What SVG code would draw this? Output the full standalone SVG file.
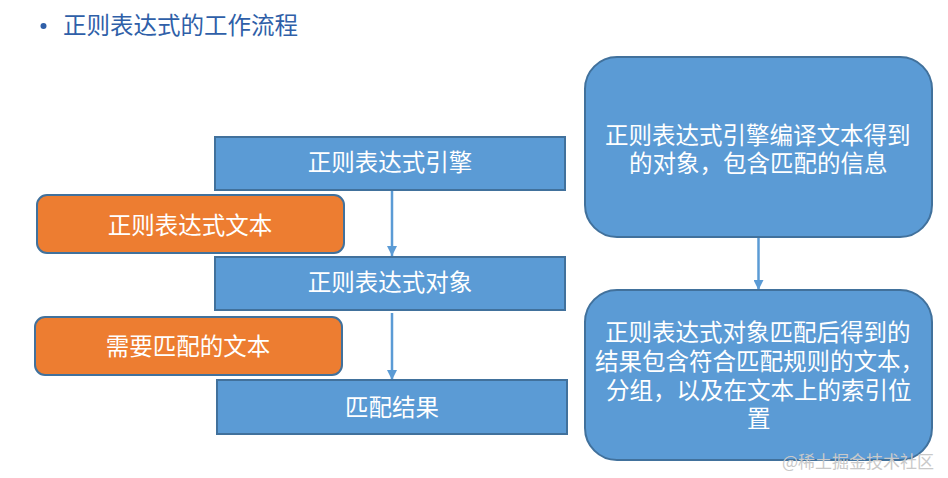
<svg xmlns="http://www.w3.org/2000/svg" width="948" height="478" viewBox="0 0 948 478">
<style>
text{font-family:"Microsoft YaHei","Noto Sans CJK SC",sans-serif;font-size:23.5px}
.blue{fill:#5b9bd5;stroke:#41719c;stroke-width:2}
.orange{fill:#ed7d31;stroke:#41719c;stroke-width:2}
.w{fill:#ffffff}
.c{text-anchor:middle}
.conn{stroke:#5b9bd5;stroke-width:2.5;fill:none}
</style>
<defs>
<marker id="ah" viewBox="0 0 10 10" refX="10" refY="5" markerWidth="4" markerHeight="4" markerUnits="strokeWidth" orient="auto">
<path d="M0,0 L10,5 L0,10 z" fill="#5b9bd5"/>
</marker>
</defs>
<rect width="948" height="478" fill="#ffffff"/>
<g id="title">
<circle cx="43.5" cy="26" r="3" fill="#2f5fa8"/>
<text x="63" y="33.5" fill="#2f5fa8">正则表达式的工作流程</text>
</g>
<g id="connectors">
<line class="conn" x1="392" y1="190" x2="392" y2="256" marker-end="url(#ah)"/>
<line class="conn" x1="392" y1="313" x2="392" y2="380" marker-end="url(#ah)"/>
<line class="conn" x1="758.5" y1="237" x2="758.5" y2="290" marker-end="url(#ah)"/>
</g>
<g id="engine">
<rect class="blue" x="215" y="137" width="350" height="53"/>
<text class="w c" x="390" y="171">正则表达式引擎</text>
</g>
<g id="regex-text">
<rect class="orange" x="37" y="195" width="307" height="58" rx="10"/>
<text class="w c" x="190" y="234">正则表达式文本</text>
</g>
<g id="regex-object">
<rect class="blue" x="215" y="257" width="350" height="53"/>
<text class="w c" x="390" y="291">正则表达式对象</text>
</g>
<g id="match-text">
<rect class="orange" x="35" y="317" width="307" height="58" rx="10"/>
<text class="w c" x="188" y="354.5">需要匹配的文本</text>
</g>
<g id="match-result">
<rect class="blue" x="217" y="380" width="350" height="54"/>
<text class="w c" x="392" y="416">匹配结果</text>
</g>
<g id="note-object">
<rect class="blue" x="585" y="57" width="347" height="180" rx="32"/>
<text class="w"><tspan x="605" y="144">正则表达式引擎编译文本得到</tspan><tspan x="629" y="172">的对象，包含匹配的信息</tspan></text>
</g>
<g id="note-result">
<rect class="blue" x="585" y="290" width="347" height="170" rx="32"/>
<text class="w"><tspan x="605" y="341">正则表达式对象匹配后得到的</tspan><tspan x="595" y="369.5">结果包含符合匹配规则的文本，</tspan><tspan x="606" y="398.5">分组，以及在文本上的索引位</tspan><tspan x="747" y="426.5">置</tspan></text>
</g>
<text x="782" y="468" fill="#c9c9c9" style="font-size:17px">@稀土掘金技术社区</text>
</svg>
